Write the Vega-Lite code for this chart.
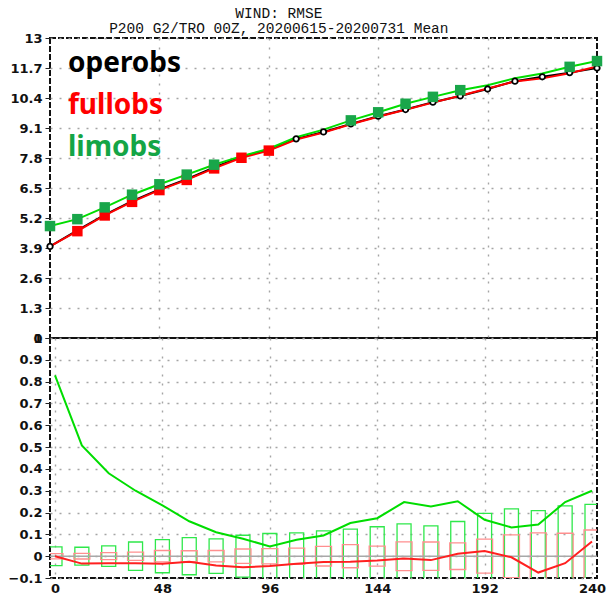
{
  "$schema": "https://vega.github.io/schema/vega-lite/v6.json",
  "autosize": {"type": "pad"},
  "padding": {"left": 7, "top": 5, "right": 0, "bottom": 2},
  "background": "#ffffff",
  "bounds": "flush",
  "title": {
    "text": ["WIND: RMSE", "P200 G2/TRO 00Z, 20200615-20200731 Mean"],
    "font": "Liberation Mono",
    "fontSize": 14.5,
    "fontWeight": "normal",
    "color": "#111111",
    "anchor": "middle",
    "dx": -28,
    "offset": -5,
    "lineHeight": 15
  },
  "datasets": {
    "rmse": [
      {"t": 0, "exp": "operobs", "rmse": 3.97},
      {"t": 12, "exp": "operobs", "rmse": 4.66},
      {"t": 24, "exp": "operobs", "rmse": 5.34},
      {"t": 36, "exp": "operobs", "rmse": 5.93},
      {"t": 48, "exp": "operobs", "rmse": 6.44},
      {"t": 60, "exp": "operobs", "rmse": 6.88},
      {"t": 72, "exp": "operobs", "rmse": 7.39},
      {"t": 84, "exp": "operobs", "rmse": 7.86},
      {"t": 96, "exp": "operobs", "rmse": 8.16},
      {"t": 108, "exp": "operobs", "rmse": 8.63},
      {"t": 120, "exp": "operobs", "rmse": 8.93},
      {"t": 132, "exp": "operobs", "rmse": 9.28},
      {"t": 144, "exp": "operobs", "rmse": 9.61},
      {"t": 156, "exp": "operobs", "rmse": 9.9},
      {"t": 168, "exp": "operobs", "rmse": 10.22},
      {"t": 180, "exp": "operobs", "rmse": 10.49},
      {"t": 192, "exp": "operobs", "rmse": 10.79},
      {"t": 204, "exp": "operobs", "rmse": 11.13},
      {"t": 216, "exp": "operobs", "rmse": 11.32},
      {"t": 228, "exp": "operobs", "rmse": 11.5},
      {"t": 240, "exp": "operobs", "rmse": 11.7},
      {"t": 0, "exp": "fullobs", "rmse": 3.97},
      {"t": 12, "exp": "fullobs", "rmse": 4.63},
      {"t": 24, "exp": "fullobs", "rmse": 5.31},
      {"t": 36, "exp": "fullobs", "rmse": 5.9},
      {"t": 48, "exp": "fullobs", "rmse": 6.41},
      {"t": 60, "exp": "fullobs", "rmse": 6.85},
      {"t": 72, "exp": "fullobs", "rmse": 7.35},
      {"t": 84, "exp": "fullobs", "rmse": 7.81},
      {"t": 96, "exp": "fullobs", "rmse": 8.12},
      {"t": 108, "exp": "fullobs", "rmse": 8.6},
      {"t": 120, "exp": "fullobs", "rmse": 8.9},
      {"t": 132, "exp": "fullobs", "rmse": 9.26},
      {"t": 144, "exp": "fullobs", "rmse": 9.59},
      {"t": 156, "exp": "fullobs", "rmse": 9.89},
      {"t": 168, "exp": "fullobs", "rmse": 10.2},
      {"t": 180, "exp": "fullobs", "rmse": 10.5},
      {"t": 192, "exp": "fullobs", "rmse": 10.81},
      {"t": 204, "exp": "fullobs", "rmse": 11.12},
      {"t": 216, "exp": "fullobs", "rmse": 11.25},
      {"t": 228, "exp": "fullobs", "rmse": 11.47},
      {"t": 240, "exp": "fullobs", "rmse": 11.77},
      {"t": 0, "exp": "limobs", "rmse": 4.85},
      {"t": 12, "exp": "limobs", "rmse": 5.15},
      {"t": 24, "exp": "limobs", "rmse": 5.66},
      {"t": 36, "exp": "limobs", "rmse": 6.21},
      {"t": 48, "exp": "limobs", "rmse": 6.66},
      {"t": 60, "exp": "limobs", "rmse": 7.08},
      {"t": 72, "exp": "limobs", "rmse": 7.51},
      {"t": 84, "exp": "limobs", "rmse": 7.88},
      {"t": 96, "exp": "limobs", "rmse": 8.2},
      {"t": 108, "exp": "limobs", "rmse": 8.7},
      {"t": 120, "exp": "limobs", "rmse": 9.03},
      {"t": 132, "exp": "limobs", "rmse": 9.43},
      {"t": 144, "exp": "limobs", "rmse": 9.78},
      {"t": 156, "exp": "limobs", "rmse": 10.15},
      {"t": 168, "exp": "limobs", "rmse": 10.45},
      {"t": 180, "exp": "limobs", "rmse": 10.74},
      {"t": 192, "exp": "limobs", "rmse": 10.95},
      {"t": 204, "exp": "limobs", "rmse": 11.26},
      {"t": 216, "exp": "limobs", "rmse": 11.46},
      {"t": 228, "exp": "limobs", "rmse": 11.75},
      {"t": 240, "exp": "limobs", "rmse": 12.0}
    ],
    "diff": [
      {"t": 0, "full": 0.0, "lim": 0.829, "full_lo": -0.012, "full_hi": 0.012, "lim_lo": -0.043, "lim_hi": 0.043},
      {"t": 12, "full": -0.034, "lim": 0.508, "full_lo": -0.013, "full_hi": 0.013, "lim_lo": -0.041, "lim_hi": 0.041},
      {"t": 24, "full": -0.032, "lim": 0.38, "full_lo": -0.016, "full_hi": 0.016, "lim_lo": -0.047, "lim_hi": 0.047},
      {"t": 36, "full": -0.032, "lim": 0.3, "full_lo": -0.019, "full_hi": 0.019, "lim_lo": -0.065, "lim_hi": 0.065},
      {"t": 48, "full": -0.035, "lim": 0.233, "full_lo": -0.026, "full_hi": 0.026, "lim_lo": -0.076, "lim_hi": 0.076},
      {"t": 60, "full": -0.026, "lim": 0.16, "full_lo": -0.025, "full_hi": 0.025, "lim_lo": -0.085, "lim_hi": 0.085},
      {"t": 72, "full": -0.043, "lim": 0.11, "full_lo": -0.026, "full_hi": 0.026, "lim_lo": -0.079, "lim_hi": 0.079},
      {"t": 84, "full": -0.051, "lim": 0.08, "full_lo": -0.033, "full_hi": 0.033, "lim_lo": -0.096, "lim_hi": 0.096},
      {"t": 96, "full": -0.045, "lim": 0.045, "full_lo": -0.035, "full_hi": 0.035, "lim_lo": -0.104, "lim_hi": 0.104},
      {"t": 108, "full": -0.035, "lim": 0.075, "full_lo": -0.037, "full_hi": 0.037, "lim_lo": -0.107, "lim_hi": 0.107},
      {"t": 120, "full": -0.027, "lim": 0.095, "full_lo": -0.045, "full_hi": 0.045, "lim_lo": -0.116, "lim_hi": 0.116},
      {"t": 132, "full": -0.025, "lim": 0.152, "full_lo": -0.053, "full_hi": 0.053, "lim_lo": -0.124, "lim_hi": 0.124},
      {"t": 144, "full": -0.02, "lim": 0.174, "full_lo": -0.046, "full_hi": 0.046, "lim_lo": -0.135, "lim_hi": 0.135},
      {"t": 156, "full": -0.011, "lim": 0.248, "full_lo": -0.066, "full_hi": 0.066, "lim_lo": -0.148, "lim_hi": 0.148},
      {"t": 168, "full": -0.018, "lim": 0.228, "full_lo": -0.065, "full_hi": 0.065, "lim_lo": -0.139, "lim_hi": 0.139},
      {"t": 180, "full": 0.011, "lim": 0.252, "full_lo": -0.061, "full_hi": 0.061, "lim_lo": -0.159, "lim_hi": 0.159},
      {"t": 192, "full": 0.024, "lim": 0.167, "full_lo": -0.078, "full_hi": 0.078, "lim_lo": -0.196, "lim_hi": 0.196},
      {"t": 204, "full": -0.005, "lim": 0.132, "full_lo": -0.098, "full_hi": 0.098, "lim_lo": -0.217, "lim_hi": 0.217},
      {"t": 216, "full": -0.075, "lim": 0.145, "full_lo": -0.107, "full_hi": 0.107, "lim_lo": -0.209, "lim_hi": 0.209},
      {"t": 228, "full": -0.032, "lim": 0.248, "full_lo": -0.105, "full_hi": 0.105, "lim_lo": -0.231, "lim_hi": 0.231},
      {"t": 240, "full": 0.067, "lim": 0.3, "full_lo": -0.12, "full_hi": 0.12, "lim_lo": -0.237, "lim_hi": 0.237}
    ]
  },
  "vconcat": [
    {
      "width": 547,
      "height": 300,
      "data": {"name": "rmse"},
      "layer": [
        {
          "mark": {"type": "line", "strokeWidth": 2, "clip": true},
          "encoding": {
            "x": {"field": "t", "type": "quantitative", "scale": {"domain": [0, 240], "nice": false},
                  "axis": {"values": [48, 96, 144, 192], "tickCount": 20, "labels": false, "ticks": false, "grid": true}},
            "y": {"field": "rmse", "type": "quantitative", "scale": {"domain": [0, 13], "nice": false, "zero": false},
                  "axis": {"values": [0, 1.3, 2.6, 3.9, 5.2, 6.5, 7.8, 9.1, 10.4, 11.7, 13], "tickCount": 30, "format": ".1~f", "grid": true, "labelOverlap": false, "labelFlush": false}},
            "color": {
              "field": "exp", "type": "nominal",
              "scale": {"domain": ["operobs", "fullobs", "limobs"], "range": ["#000000", "#ff0000", "#00dd00"]},
              "legend": {
                "orient": "none", "legendX": -10, "legendY": 12, "direction": "vertical",
                "title": null, "symbolSize": 0, "symbolOpacity": 0, "symbolStrokeWidth": 0,
                "labelOffset": 0, "labelFont": "Noto Sans", "labelFontSize": 28, "labelFontWeight": "bold",
                "labelLimit": 300, "rowPadding": 14, "padding": 0,
                "labelColor": {"expr": "datum.label == 'limobs' ? '#14a546' : datum.label == 'fullobs' ? '#ff0000' : '#000000'"}
              }
            }
          }
        },
        {
          "transform": [{"filter": "datum.exp == 'operobs'"}],
          "mark": {"type": "point", "shape": "circle", "filled": true, "fill": "#ffffff", "stroke": "#000000", "strokeWidth": 1.8, "size": 30, "opacity": 1},
          "encoding": {
            "x": {"field": "t", "type": "quantitative"},
            "y": {"field": "rmse", "type": "quantitative"}
          }
        },
        {
          "transform": [{"filter": "datum.exp == 'fullobs' && datum.t >= 12 && datum.t <= 96"}],
          "mark": {"type": "point", "shape": "square", "filled": true, "color": "#ff0000", "size": 110, "opacity": 1},
          "encoding": {
            "x": {"field": "t", "type": "quantitative"},
            "y": {"field": "rmse", "type": "quantitative"}
          }
        },
        {
          "transform": [{"filter": "datum.exp == 'limobs' && (datum.t <= 72 || (datum.t >= 132 && datum.t <= 180) || datum.t >= 228)"}],
          "mark": {"type": "point", "shape": "square", "filled": true, "color": "#19a64a", "size": 110, "opacity": 1},
          "encoding": {
            "x": {"field": "t", "type": "quantitative"},
            "y": {"field": "rmse", "type": "quantitative"}
          }
        }
      ]
    },
    {
      "width": 547,
      "height": 240,
      "data": {"name": "diff"},
      "layer": [
        {
          "mark": {"type": "bar", "size": 14, "fillOpacity": 0, "stroke": "#2ee84a", "strokeWidth": 1.3, "clip": true},
          "encoding": {
            "x": {"field": "t", "type": "quantitative", "scale": {"domain": [0, 240], "nice": false},
                  "axis": {"values": [0, 48, 96, 144, 192, 240], "tickCount": 20, "ticks": false, "labelPadding": 4, "grid": true, "labelOverlap": false, "labelFlush": false}},
            "y": {"field": "lim_lo", "type": "quantitative", "scale": {"domain": [-0.1, 1], "nice": false, "zero": false},
                  "axis": {"values": [-0.1, 0, 0.1, 0.2, 0.3, 0.4, 0.5, 0.6, 0.7, 0.8, 0.9, 1], "tickCount": 30, "format": ".1~f", "grid": true, "labelOverlap": false, "labelFlush": false}},
            "y2": {"field": "lim_hi"}
          }
        },
        {
          "mark": {"type": "bar", "size": 16, "fillOpacity": 0, "stroke": "#ff8f8f", "strokeWidth": 1.3, "clip": true},
          "encoding": {
            "x": {"field": "t", "type": "quantitative"},
            "y": {"field": "full_lo", "type": "quantitative"},
            "y2": {"field": "full_hi"}
          }
        },
        {
          "data": {"values": [{"zero": 0}]},
          "mark": {"type": "rule", "color": "#a8a8a8", "strokeWidth": 1.5},
          "encoding": {"y": {"field": "zero", "type": "quantitative"}}
        },
        {
          "mark": {"type": "line", "color": "#00dd00", "strokeWidth": 2, "clip": true},
          "encoding": {
            "x": {"field": "t", "type": "quantitative"},
            "y": {"field": "lim", "type": "quantitative"}
          }
        },
        {
          "mark": {"type": "line", "color": "#ff2020", "strokeWidth": 2, "clip": true},
          "encoding": {
            "x": {"field": "t", "type": "quantitative"},
            "y": {"field": "full", "type": "quantitative"}
          }
        }
      ]
    }
  ],
  "spacing": 0,
  "config": {
    "view": {"stroke": "#111111", "strokeWidth": 2, "strokeDash": [6, 2]},
    "axis": {
      "title": null,
      "domain": false,
      "labelOverlap": false,
      "labelFont": "DejaVu Sans",
      "labelFontWeight": "bold",
      "labelFontSize": 13,
      "labelColor": "#111111",
      "tickColor": "#222222",
      "tickSize": 5,
      "labelPadding": 3,
      "gridColor": "#a5a5a5",
      "gridDash": [2, 7],
      "gridWidth": 1.4
    }
  }
}
